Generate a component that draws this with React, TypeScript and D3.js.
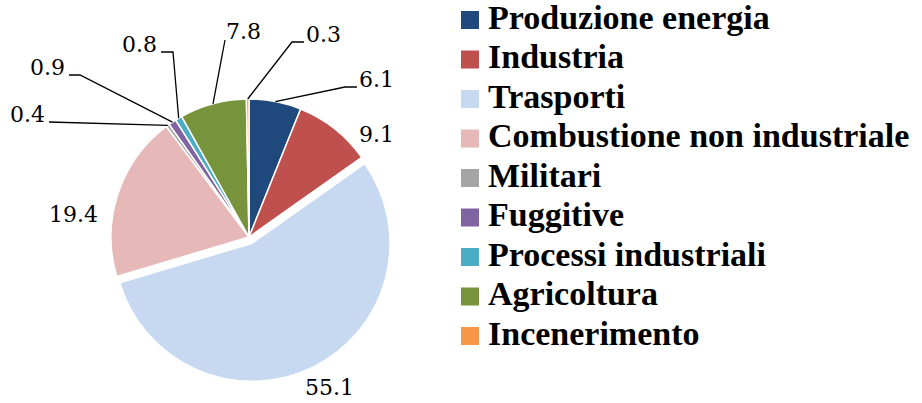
import React from 'react';
import * as d3 from 'd3';

const categories = [
  'Produzione energia',
  'Industria',
  'Trasporti',
  'Combustione non industriale',
  'Militari',
  'Fuggitive',
  'Processi industriali',
  'Agricoltura',
  'Incenerimento',
];
const values = [6.1, 9.1, 55.1, 19.4, 0.4, 0.9, 0.8, 7.8, 0.3];
const valueLabels = ['6.1', '9.1', '55.1', '19.4', '0.4', '0.9', '0.8', '7.8', '0.3'];
const colors = ['#1F497D', '#C0504D', '#C6D9F1', '#E6B9B8', '#A5A5A5', '#8064A2', '#4BACC6', '#77933C', '#F79646'];
const explodedIndex = [2];

// layout of the data labels (text position + leader elbows)
const labelLayout: { x: number; y: number; anchor: string; leader: number[][] | null }[] = [
  { x: 359, y: 87, anchor: 'start', leader: [[345, 87], [357, 87]] },
  { x: 359, y: 142, anchor: 'start', leader: null },
  { x: 305, y: 395, anchor: 'start', leader: null },
  { x: 49, y: 222, anchor: 'start', leader: null },
  { x: 45, y: 122, anchor: 'end', leader: [[49, 122]] },
  { x: 65, y: 75, anchor: 'end', leader: [[80, 75], [69, 75]] },
  { x: 157, y: 52, anchor: 'end', leader: [[173, 52], [161, 52]] },
  { x: 226, y: 39, anchor: 'start', leader: [[225, 40]] },
  { x: 306, y: 42, anchor: 'start', leader: [[292, 42], [304, 42]] },
];

const W = 922;
const H = 403;
const cx = 249;
const cy = 237;
const R = 138;
const explode = 7;

export default function App() {
  const pie = d3.pie<number>().sort(null).value((d) => d);
  const arcs = pie(values);
  const arc = d3.arc<d3.PieArcDatum<number>>().innerRadius(0).outerRadius(R);

  const legendX = 461;
  const legendTextX = 488;
  const legendY0 = 28.5;
  const legendStep = 39.5;

  return (
    <svg width={W} height={H} style={{ position: 'absolute', left: 0, top: 0, background: '#fff' }}>
      <g transform={`translate(${cx},${cy})`}>
        {arcs.map((a, i) => {
          const mid = (a.startAngle + a.endAngle) / 2;
          const off = explodedIndex.includes(i) ? explode : 0;
          const dx = off * Math.sin(mid);
          const dy = -off * Math.cos(mid);
          return (
            <path
              key={i}
              d={arc(a) || ''}
              transform={`translate(${dx},${dy})`}
              fill={colors[i]}
              stroke="#fff"
              strokeWidth={1.5}
              strokeLinejoin="round"
            />
          );
        })}
      </g>
      {arcs.map((a, i) => {
        const L = labelLayout[i];
        if (!L.leader) return null;
        const mid = (a.startAngle + a.endAngle) / 2;
        const sx = cx + R * Math.sin(mid);
        const sy = cy - R * Math.cos(mid);
        const pts = [[sx, sy], ...L.leader];
        const line = d3.line()(pts as [number, number][]);
        return <path key={'l' + i} d={line || ''} fill="none" stroke="#000" strokeWidth={1.3} />;
      })}
      {arcs.map((a, i) => {
        const L = labelLayout[i];
        return (
          <text
            key={'t' + i}
            x={L.x}
            y={L.y}
            textAnchor={L.anchor}
            fontFamily="'DejaVu Serif', serif"
            fontSize={22}
            fill="#000"
          >
            {valueLabels[i]}
          </text>
        );
      })}
      {categories.map((c, i) => {
        const by = legendY0 + i * legendStep;
        return (
          <g key={'lg' + i}>
            <rect x={legendX} y={by - 17.5} width={18} height={18} fill={colors[i]} />
            <text
              x={legendTextX}
              y={by}
              fontFamily="'Liberation Serif', 'Times New Roman', serif"
              fontWeight="bold"
              fontSize={34}
              fill="#000"
            >
              {c}
            </text>
          </g>
        );
      })}
    </svg>
  );
}
